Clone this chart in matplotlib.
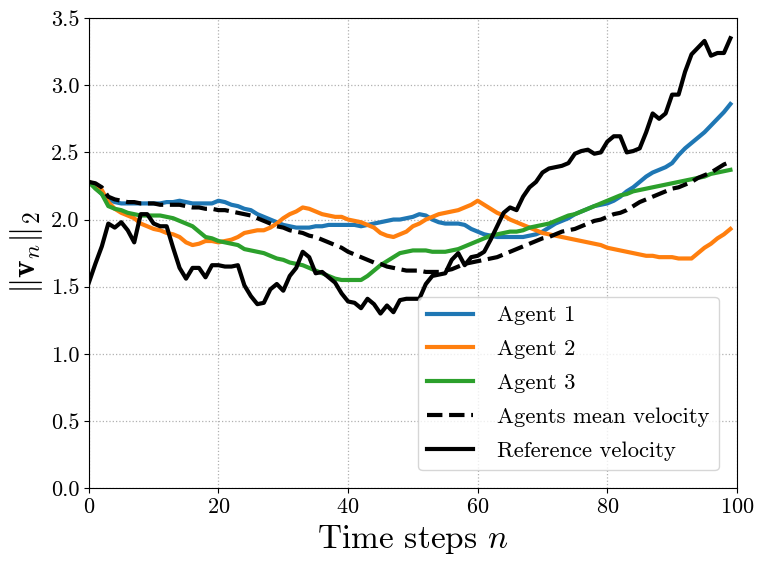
import matplotlib
matplotlib.use("Agg")
import matplotlib.pyplot as plt
import numpy as np

plt.rcParams['font.family'] = 'serif'
plt.rcParams['font.serif'] = ['cmr10']
plt.rcParams['mathtext.fontset'] = 'cm'
plt.rcParams['axes.unicode_minus'] = False
plt.rcParams['axes.formatter.use_mathtext'] = True

steps = np.arange(100)

# agent velocity norms
agent1 = [2.28,2.24,2.19,2.15,2.13,2.12,2.12,2.12,2.12,2.12,
          2.12,2.12,2.13,2.13,2.14,2.13,2.12,2.12,2.12,2.12,
          2.14,2.13,2.11,2.10,2.08,2.07,2.04,2.02,2.00,1.98,
          1.96,1.95,1.94,1.94,1.94,1.95,1.95,1.96,1.96,1.96,
          1.96,1.96,1.95,1.96,1.97,1.98,1.99,2.00,2.00,2.01,
          2.02,2.04,2.03,2.00,1.98,1.97,1.97,1.97,1.96,1.93,
          1.91,1.89,1.88,1.87,1.87,1.87,1.87,1.87,1.88,1.89,
          1.91,1.94,1.97,1.99,2.01,2.04,2.06,2.08,2.10,2.11,
          2.12,2.14,2.17,2.21,2.24,2.28,2.32,2.35,2.37,2.39,
          2.42,2.48,2.53,2.57,2.61,2.65,2.70,2.75,2.80,2.86]
agent2 = [2.28,2.26,2.22,2.13,2.08,2.05,2.03,2.01,1.97,1.95,
          1.93,1.92,1.90,1.89,1.87,1.83,1.81,1.82,1.84,1.84,
          1.83,1.84,1.85,1.87,1.90,1.91,1.92,1.92,1.94,1.97,
          2.01,2.04,2.06,2.09,2.08,2.06,2.04,2.03,2.02,2.02,
          2.00,1.99,1.98,1.96,1.94,1.90,1.88,1.87,1.89,1.91,
          1.95,1.97,2.00,2.02,2.04,2.05,2.06,2.07,2.09,2.11,
          2.14,2.11,2.08,2.05,2.03,2.00,1.98,1.96,1.94,1.92,
          1.90,1.89,1.88,1.87,1.86,1.85,1.84,1.83,1.82,1.81,
          1.79,1.78,1.77,1.76,1.75,1.74,1.73,1.73,1.72,1.72,
          1.72,1.71,1.71,1.71,1.75,1.79,1.82,1.86,1.89,1.93]
agent3 = [2.28,2.23,2.19,2.10,2.08,2.07,2.05,2.04,2.03,2.03,
          2.03,2.03,2.02,2.01,1.99,1.97,1.95,1.91,1.87,1.86,
          1.84,1.83,1.82,1.81,1.78,1.77,1.76,1.75,1.73,1.71,
          1.70,1.68,1.67,1.66,1.64,1.62,1.60,1.58,1.56,1.55,
          1.55,1.55,1.55,1.58,1.62,1.66,1.69,1.72,1.75,1.76,
          1.77,1.77,1.77,1.76,1.76,1.76,1.77,1.78,1.80,1.82,
          1.84,1.86,1.88,1.89,1.90,1.91,1.91,1.92,1.94,1.95,
          1.96,1.97,1.99,2.01,2.03,2.04,2.06,2.08,2.10,2.12,
          2.14,2.16,2.18,2.19,2.21,2.22,2.23,2.24,2.25,2.26,
          2.27,2.28,2.29,2.30,2.31,2.32,2.34,2.35,2.36,2.37]
mean_vel = [2.28,2.27,2.24,2.17,2.15,2.14,2.13,2.13,2.12,2.12,
            2.12,2.11,2.11,2.11,2.11,2.10,2.09,2.09,2.08,2.08,
            2.07,2.07,2.06,2.05,2.04,2.03,2.01,1.99,1.97,1.95,
            1.94,1.92,1.91,1.90,1.88,1.87,1.85,1.83,1.81,1.79,
            1.76,1.74,1.72,1.70,1.68,1.67,1.65,1.64,1.63,1.62,
            1.62,1.62,1.61,1.61,1.61,1.62,1.63,1.65,1.67,1.68,
            1.69,1.70,1.71,1.72,1.74,1.76,1.78,1.80,1.82,1.84,
            1.86,1.87,1.89,1.91,1.92,1.93,1.95,1.97,1.99,2.00,
            2.02,2.04,2.05,2.07,2.10,2.13,2.15,2.17,2.19,2.21,
            2.23,2.24,2.26,2.28,2.31,2.33,2.35,2.38,2.41,2.43]
ref_vel = [1.53,1.67,1.80,1.97,1.94,1.98,1.92,1.83,2.04,2.04,
           1.97,1.95,1.95,1.79,1.64,1.56,1.64,1.64,1.57,1.66,
           1.66,1.65,1.65,1.66,1.51,1.43,1.37,1.38,1.48,1.52,
           1.47,1.58,1.64,1.76,1.72,1.60,1.61,1.57,1.53,1.45,
           1.39,1.38,1.34,1.41,1.37,1.30,1.36,1.31,1.40,1.41,
           1.41,1.41,1.52,1.58,1.59,1.60,1.70,1.75,1.66,1.72,
           1.73,1.76,1.85,1.95,2.05,2.09,2.07,2.17,2.24,2.28,
           2.35,2.38,2.39,2.40,2.42,2.49,2.51,2.52,2.49,2.50,
           2.58,2.62,2.62,2.50,2.51,2.53,2.65,2.79,2.75,2.79,
           2.93,2.93,3.10,3.23,3.28,3.33,3.22,3.24,3.24,3.35]

fig = plt.figure(figsize=(7.66, 5.65), dpi=100)
ax = fig.add_axes([0.116, 0.136, 0.846, 0.832])

lw = 3
ax.plot(steps, agent1, color='#1f77b4', lw=lw, label='Agent 1')
ax.plot(steps, agent2, color='#ff7f0e', lw=lw, label='Agent 2')
ax.plot(steps, agent3, color='#2ca02c', lw=lw, label='Agent 3')
ax.plot(steps, mean_vel, color='black', lw=lw, ls='--', label='Agents mean velocity')
ax.plot(steps, ref_vel, color='black', lw=lw, label='Reference velocity')

ax.set_xlim(0, 100)
ax.set_ylim(0, 3.5)
ax.set_yticks(np.arange(0, 3.51, 0.5))
ax.set_yticklabels(['%.1f' % v for v in np.arange(0, 3.51, 0.5)])
ax.grid(True, ls=':', color='#b0b0b0', lw=0.9)
ax.tick_params(labelsize=16)
ax.set_xlabel('Time steps $n$', fontsize=24)
ax.set_ylabel(r'$\|\mathbf{v}_n\|_2$', fontsize=24)
ax.legend(loc='lower right', fontsize=16.3, handletextpad=1.07,
          labelspacing=0.62, handlelength=2.03, borderaxespad=0.8)

fig.savefig('out.png', dpi=100)
